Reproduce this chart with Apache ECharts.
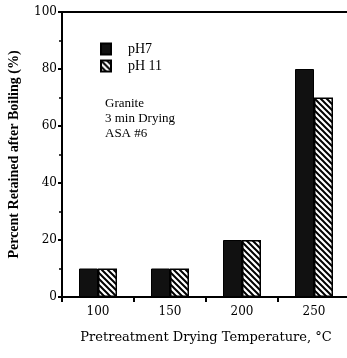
<!DOCTYPE html>
<html>
<head>
<meta charset="utf-8">
<script src="https://cdn.jsdelivr.net/npm/echarts@6/dist/echarts.min.js"></script>
<style>
  html, body { margin: 0; padding: 0; background: #fff; }
  #chart { width: 347px; height: 358px; }
</style>
</head>
<body>
<div id="chart"></div>
<script>
// data
var temps = ['100', '150', '200', '250'];
var ph7 = [10, 10, 20, 80];
var ph11 = [10, 10, 20, 70];
var yTicks = [0, 20, 40, 60, 80, 100];

var serif = '"Liberation Serif", "DejaVu Serif", serif';
var wideSerif = '"DejaVu Serif", serif';

// diagonal hatch for the pH 11 bars
function hatch() {
    var c = document.createElement('canvas');
    c.width = 6;
    c.height = 6;
    var ctx = c.getContext('2d');
    ctx.fillStyle = '#fff';
    ctx.fillRect(0, 0, 6, 6);
    ctx.strokeStyle = '#000';
    ctx.lineWidth = 2;
    ctx.beginPath();
    ctx.moveTo(-1, -1); ctx.lineTo(7, 7);
    ctx.moveTo(-4, 2); ctx.lineTo(4, 10);
    ctx.moveTo(2, -4); ctx.lineTo(10, 4);
    ctx.stroke();
    return c;
}

var myChart = echarts.init(document.getElementById('chart'));
var option = {
    backgroundColor: '#fff',
    animation: false,
    textStyle: { fontFamily: serif, color: '#000' },
    title: {
        text: 'Granite\n3 min Drying\nASA #6',
        left: 100,
        top: 91,
        textStyle: { fontFamily: serif, fontSize: 13, fontWeight: 'normal', lineHeight: 15, color: '#000' }
    },
    legend: {
        orient: 'vertical',
        left: 95,
        top: 37,
        icon: 'rect',
        itemWidth: 10,
        itemHeight: 11,
        itemGap: 3,
        textStyle: { fontFamily: serif, fontSize: 14, color: '#000', padding: [0, 0, 0, 12] },
        data: ['pH7', 'pH 11']
    },
    grid: {
        left: 62,
        right: -3,
        top: 12,
        bottom: 61,
        outerBoundsMode: 'none',
        show: true,
        borderColor: '#000',
        borderWidth: 2
    },
    xAxis: {
        type: 'category',
        data: temps,
        name: 'Pretreatment Drying Temperature, °C',
        nameLocation: 'middle',
        nameGap: 34,
        nameTextStyle: { fontFamily: wideSerif, fontSize: 13, color: '#000' },
        axisLine: { lineStyle: { color: '#000', width: 2 } },
        axisTick: { show: true, length: 5, lineStyle: { color: '#000', width: 2 } },
        axisLabel: { fontFamily: wideSerif, fontSize: 12, color: '#000', margin: 9 }
    },
    yAxis: {
        type: 'value',
        min: yTicks[0],
        max: yTicks[yTicks.length - 1],
        interval: 20,
        name: 'Percent Retained after Boiling (%)',
        nameLocation: 'middle',
        nameGap: 41,
        nameTextStyle: { fontFamily: serif, fontSize: 14, fontWeight: 'bold', color: '#000' },
        splitLine: { show: false },
        axisLine: { show: true, lineStyle: { color: '#000', width: 2 } },
        axisTick: { show: true, length: 4, lineStyle: { color: '#000', width: 2 } },
        minorTick: { show: true, splitNumber: 2, length: 3, lineStyle: { color: '#000', width: 1.5 } },
        axisLabel: { fontFamily: wideSerif, fontSize: 12, color: '#000', margin: 5 }
    },
    series: [
        {
            name: 'pH7',
            type: 'bar',
            barWidth: 19,
            barGap: '0%',
            itemStyle: { color: '#111', borderColor: '#000', borderWidth: 1 },
            data: ph7
        },
        {
            name: 'pH 11',
            type: 'bar',
            barWidth: 19,
            barGap: '0%',
            itemStyle: { color: { image: hatch(), repeat: 'repeat' }, borderColor: '#000', borderWidth: 1.5 },
            data: ph11
        }
    ]
};
myChart.setOption(option);
</script>
</body>
</html>
